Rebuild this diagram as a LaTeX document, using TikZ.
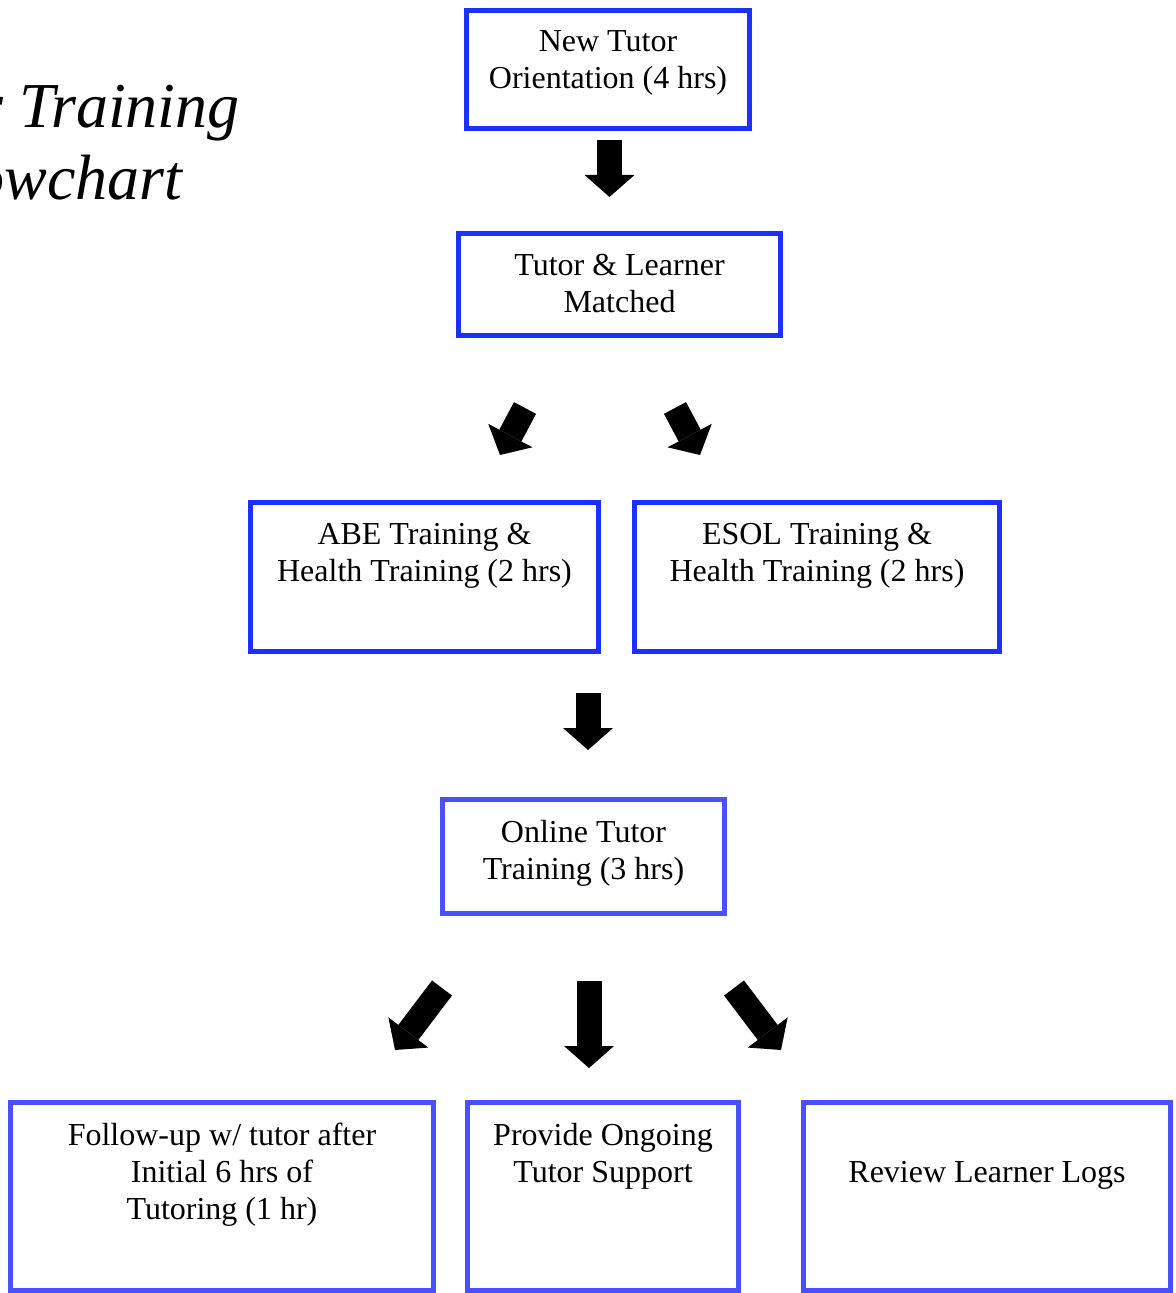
\documentclass[tikz,border=0pt]{standalone}
\usepackage{fontspec}
\setmainfont{Liberation Serif}
\usetikzlibrary{positioning,arrows.meta}
\definecolor{boxblue}{RGB}{28,48,255}
\definecolor{boxbluelight}{RGB}{72,80,255}
\tikzset{
  flowbox/.style n args={2}{draw=boxblue, line width=2.5pt, inner sep=0pt,
    outer sep=0pt, minimum width=#1*0.5pt, minimum height=#2*0.5pt},
  boxtext/.style={inner sep=0pt, align=center,
    font=\fontsize{16pt}{18.5pt}\selectfont},
  blockarrow/.style={line width=12.5pt,
    -{Triangle[width=25pt,length=11pt,line width=0pt]}},
  titletext/.style={inner sep=0pt, font=\itshape\fontsize{32pt}{36pt}\selectfont}
}

\begin{document}
\begin{tikzpicture}[x=0.5pt, y=-0.5pt]
  \useasboundingbox (0,0) rectangle (1175,1293);
  \clip (0,0) rectangle (1175,1293);

  % title, cut off at the left edge
  \node[titletext, anchor=base east] (title1) at (240,128) {Tutor Training};
  \node[titletext, anchor=base east] (title2) at (183,200) {Flowchart};

  % boxes
  \node[flowbox={283}{118}] (orient) at (608,69.5) {};
  \node[boxtext, below=10pt of orient.north] (orienttext) {New Tutor\\Orientation (4 hrs)};

  \node[flowbox={322}{102}] (match) at (619.5,284.5) {};
  \node[boxtext, below=10pt of match.north] (matchtext) {Tutor \& Learner\\Matched};

  \node[flowbox={348}{149}] (abe) at (424.5,577) {};
  \node[boxtext, below=10pt of abe.north] (abetext) {ABE Training \&\\Health Training (2 hrs)};

  \node[flowbox={365}{149}] (esol) at (817,577) {};
  \node[boxtext, below=10pt of esol.north] (esoltext) {ESOL Training \&\\Health Training (2 hrs)};

  \node[flowbox={282}{114}, draw=boxbluelight] (online) at (583.5,856.5) {};
  \node[boxtext, below=10pt of online.north] (onlinetext) {Online Tutor\\Training (3 hrs)};

  \node[flowbox={423}{188}, draw=boxbluelight] (follow) at (222,1196.5) {};
  \node[boxtext, below=10pt of follow.north] (followtext) {Follow-up w/ tutor after\\Initial 6 hrs of\\Tutoring (1 hr)};

  \node[flowbox={271}{188}, draw=boxbluelight] (support) at (603,1196.5) {};
  \node[boxtext, below=10pt of support.north] (supporttext) {Provide Ongoing\\Tutor Support};

  \node[flowbox={367}{188}, draw=boxbluelight] (logs) at (987,1196.5) {};
  \node[boxtext, below=29pt of logs.north] (logstext) {Review Learner Logs};

  % block arrows
  \coordinate (a1s) at (609.5,140);  \coordinate (a1e) at (609.5,197);
  \coordinate (a2s) at (525,408);    \coordinate (a2e) at (500,455);
  \coordinate (a3s) at (675,408);    \coordinate (a3e) at (700,455);
  \coordinate (a4s) at (588,693);    \coordinate (a4e) at (588,750);
  \coordinate (a5s) at (442,988);    \coordinate (a5e) at (395,1050);
  \coordinate (a6s) at (589,981);    \coordinate (a6e) at (589,1068);
  \coordinate (a7s) at (734,988);    \coordinate (a7e) at (781,1050);

  \draw[blockarrow] (a1s) -- (a1e); % orientation -> matched
  \draw[blockarrow] (a2s) -- (a2e); % -> ABE
  \draw[blockarrow] (a3s) -- (a3e); % -> ESOL
  \draw[blockarrow] (a4s) -- (a4e); % -> online
  \draw[blockarrow] (a5s) -- (a5e);
  \draw[blockarrow] (a6s) -- (a6e);
  \draw[blockarrow] (a7s) -- (a7e);
\end{tikzpicture}
\end{document}
